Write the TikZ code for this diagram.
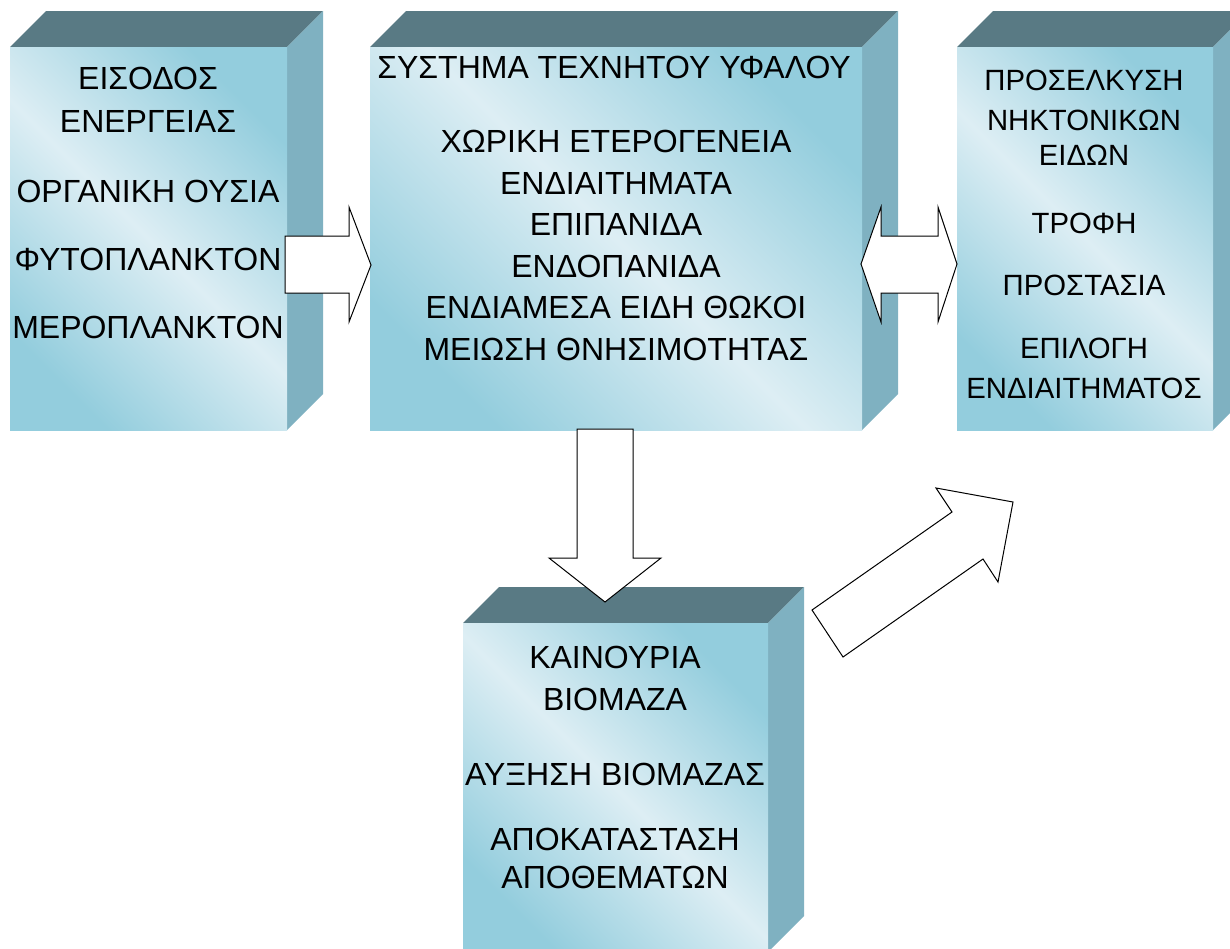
\documentclass[tikz,border=0pt]{standalone}
\usepackage{fontspec}
\setmainfont{Liberation Sans}
\definecolor{topc}{HTML}{597A84}
\definecolor{sidec}{HTML}{7FB1C1}
\definecolor{flight}{HTML}{DDEEF4}
\definecolor{fblue}{HTML}{93CDDD}
\pgfdeclarehorizontalshading{frontshade}{100bp}{color(0bp)=(fblue); color(25bp)=(fblue); color(50bp)=(flight); color(75bp)=(fblue); color(100bp)=(fblue)}
\newcommand\drawbox[5]{%
  \fill[topc] (#2,#3) -- (#2+36,#3-36) -- (#4+36,#3-36) -- (#4,#3) -- cycle;
  \fill[sidec] (#4,#3) -- (#4+36,#3-36) -- (#4+36,#5-36) -- (#4,#5) -- cycle;
  \shade[shading=frontshade, shading angle=45] (#2,#3) rectangle (#4,#5);
  \coordinate (#1) at ({(#2+#4)/2},{(#3+#5)/2});
}
\begin{document}
\begin{tikzpicture}[x=1pt,y=-1pt,
  txt/.style={font=\fontsize{32}{38}\selectfont, anchor=base, inner sep=0pt},
  txtsmall/.style={font=\fontsize{29.3}{35}\selectfont, anchor=base, inner sep=0pt},
  blockarrow/.style={draw=black, fill=white, line width=1pt, line join=miter}]
\useasboundingbox (0,0) rectangle (1230,948);
\clip (0,0) rectangle (1230,948);

% boxes
\drawbox{inbox}{10}{47}{287}{430}
\drawbox{reefbox}{370}{47}{862}{430}
\drawbox{fishbox}{957}{47}{1213}{430}
\drawbox{biobox}{463}{623}{768}{952}

% left box text
\node[txt] (t11) at (148,89) {ΕΙΣΟΔΟΣ};
\node[txt] (t12) at (148,132) {ΕΝΕΡΓΕΙΑΣ};
\node[txt] (t13) at (148,202) {ΟΡΓΑΝΙΚΗ ΟΥΣΙΑ};
\node[txt] (t14) at (148,270) {ΦΥΤΟΠΛΑΝΚΤΟΝ};
\node[txt] (t15) at (148,338) {ΜΕΡΟΠΛΑΝΚΤΟΝ};

% middle box text
\node[txt] (t21) at (614,78) {ΣΥΣΤΗΜΑ ΤΕΧΝΗΤΟΥ ΥΦΑΛΟΥ};
\node[txt] (t22) at (616,152) {ΧΩΡΙΚΗ ΕΤΕΡΟΓΕΝΕΙΑ};
\node[txt] (t23) at (616,194) {ΕΝΔΙΑΙΤΗΜΑΤΑ};
\node[txt] (t24) at (616,235) {ΕΠΙΠΑΝΙΔΑ};
\node[txt] (t25) at (616,277) {ΕΝΔΟΠΑΝΙΔΑ};
\node[txt] (t26) at (616,318) {ΕΝΔΙΑΜΕΣΑ ΕΙΔΗ ΘΩΚΟΙ};
\node[txt] (t27) at (616,360) {ΜΕΙΩΣΗ ΘΝΗΣΙΜΟΤΗΤΑΣ};

% right box text
\node[txtsmall] (t31) at (1084,90) {ΠΡΟΣΕΛΚΥΣΗ};
\node[txtsmall] (t32) at (1084,130) {ΝΗΚΤΟΝΙΚΩΝ};
\node[txtsmall] (t33) at (1084,165) {ΕΙΔΩΝ};
\node[txtsmall] (t34) at (1084,233) {ΤΡΟΦΗ};
\node[txtsmall] (t35) at (1084,295) {ΠΡΟΣΤΑΣΙΑ};
\node[txtsmall] (t36) at (1084,358) {ΕΠΙΛΟΓΗ};
\node[txtsmall] (t37) at (1084,398) {ΕΝΔΙΑΙΤΗΜΑΤΟΣ};

% bottom box text
\node[txt] (t41) at (615,668) {ΚΑΙΝΟΥΡΙΑ};
\node[txt] (t42) at (615,710) {ΒΙΟΜΑΖΑ};
\node[txt] (t43) at (615,785) {ΑΥΞΗΣΗ ΒΙΟΜΑΖΑΣ};
\node[txt] (t44) at (615,850) {ΑΠΟΚΑΤΑΣΤΑΣΗ};
\node[txt] (t45) at (615,888) {ΑΠΟΘΕΜΑΤΩΝ};

% block arrows
\draw[blockarrow] (285,236) -- (349,236) -- (349,207) -- (371,265) -- (349,322) -- (349,293) -- (285,293) -- cycle;
\draw[blockarrow] (861,264) -- (881,207) -- (881,236) -- (938,236) -- (938,207) -- (957,264) -- (938,322) -- (938,293) -- (881,293) -- (881,322) -- cycle;
\draw[blockarrow] (577,429) -- (633,429) -- (633,558) -- (661,558) -- (605,602) -- (549,558) -- (577,558) -- cycle;
\draw[blockarrow] (812,610) -- (952,512) -- (936,488) -- (1013,502) -- (998,582) -- (983,559) -- (843,657) -- cycle;
\end{tikzpicture}
\end{document}
